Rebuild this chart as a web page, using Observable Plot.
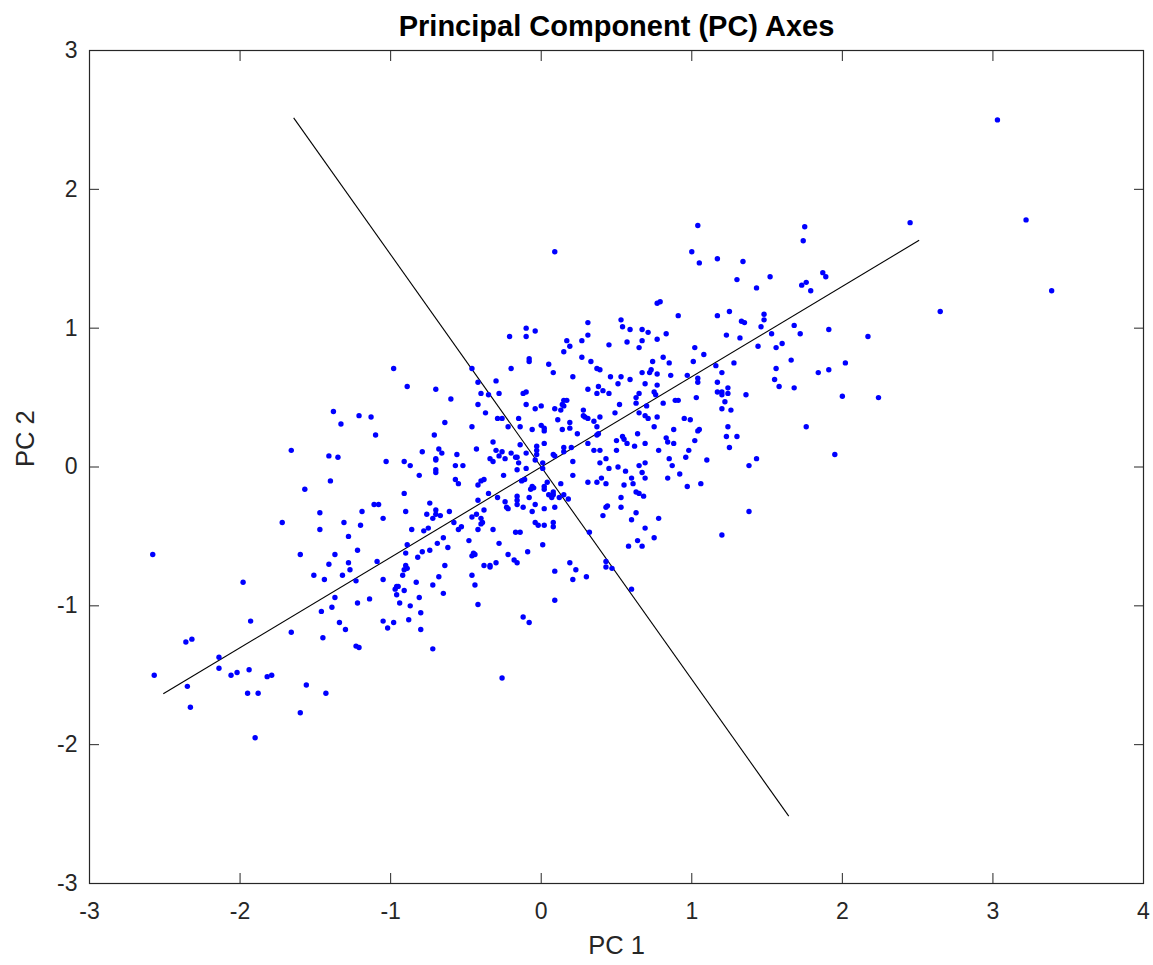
<!DOCTYPE html>
<html>
<head>
<meta charset="utf-8">
<script src="https://cdn.jsdelivr.net/npm/d3@7"></script>
<script src="https://cdn.jsdelivr.net/npm/@observablehq/plot@0.6"></script>
<style>
  body { margin: 0; background: #ffffff; }
  #chart svg { display: block; }
</style>
</head>
<body>
<div id="chart"></div>
<script>
// ---- Data ----
const chartTitle = "Principal Component (PC) Axes";
const xLabel = "PC 1";
const yLabel = "PC 2";
const xTicks = [-3, -2, -1, 0, 1, 2, 3, 4];
const yTicks = [-3, -2, -1, 0, 1, 2, 3];

// Scores of each observation on PC 1 and PC 2 (same order)
const pc1 = [
  -1.38,-1.21,-1.13,-1.33,-1.10,-1.66,-1.41,-1.35,-1.03,-1.40,
  -1.57,-1.47,-1.11,-1.08,-1.19,-1.72,-1.31,-1.47,-1.20,-1.05,
  -1.28,-2.58,-1.60,-1.37,-1.22,-1.41,-1.28,-1.09,-1.27,-1.51,
  -1.32,-1.44,-1.23,-1.05,-1.98,-1.37,-1.14,-1.22,-1.46,-1.39,
  -1.93,-1.34,-1.30,-1.05,-1.02,-1.66,-1.45,-2.36,-2.32,-1.23,
  -1.21,-2.14,-2.57,-2.14,-2.06,-2.02,-1.94,-1.82,-1.79,-2.35,
  -1.56,-1.95,-1.88,-1.43,-2.33,-1.60,-1.90,-0.21,-0.10,-0.10,
  -0.04,-0.98,-0.46,-0.20,-0.08,-0.08,0.05,-0.89,-0.70,-0.42,
  -0.30,-0.60,-0.40,-0.35,-0.28,-0.12,-0.10,-0.42,-0.10,0.00,
  -0.04,-0.37,-0.29,-0.26,-0.15,-0.64,-0.46,-0.22,-0.14,-0.06,
  0.00,0.02,0.02,-0.71,-0.32,-0.14,-0.03,-0.03,-0.03,0.02,
  -0.68,-0.66,-0.79,-0.56,-0.43,-0.30,-0.26,-0.20,-0.10,-0.70,
  -0.70,-0.91,-0.87,-0.57,-0.52,-0.34,-0.32,-0.28,-0.24,-0.17,
  -0.16,-0.15,-0.10,-0.04,0.01,-0.70,-0.16,0.01,-0.81,-0.70,
  -0.57,-0.55,-0.40,-0.38,-0.42,-0.25,-0.13,-0.11,-0.06,-0.05,
  -0.07,0.02,0.02,0.04,0.05,-0.91,-0.35,-0.29,-0.16,-0.16,
  -0.16,-0.08,-0.24,-0.74,-0.42,-0.04,-0.23,-0.22,-0.12,0.02,
  -0.90,-0.76,-0.70,-0.70,-0.67,-0.61,-0.38,-0.06,-0.72,-0.46,
  -0.43,-0.40,-0.58,-0.40,-0.39,-0.04,-0.02,0.02,-0.86,-0.78,
  -0.75,-0.55,-0.53,-0.42,-0.32,-0.17,-0.14,-0.65,-0.48,-0.89,
  -0.90,-0.69,-0.62,-0.28,0.01,-0.79,-0.74,-0.45,-0.44,-0.46,
  -0.09,-0.82,-0.22,-0.18,-0.16,-0.90,-0.89,-0.91,-0.92,-0.64,
  -0.38,-0.34,-0.34,-0.30,-0.68,-0.46,-0.83,-0.72,-0.44,-0.97,
  -0.96,-0.95,-0.91,-0.96,-0.65,-0.81,-0.94,-0.87,-0.42,-0.80,
  -0.12,-0.08,-0.98,-0.88,-0.80,-0.72,-0.26,0.09,1.00,1.05,
  0.77,0.79,0.91,0.31,0.53,0.54,0.31,0.59,0.67,0.71,
  0.83,0.77,0.17,0.27,0.19,0.45,0.57,0.67,0.65,1.02,
  0.15,0.27,0.33,0.74,0.81,0.85,1.01,1.08,0.08,0.21,
  0.37,0.39,0.46,0.53,0.59,0.67,0.72,0.73,0.77,0.86,
  0.97,1.04,1.04,0.51,0.69,0.77,0.31,0.38,0.41,0.37,
  0.45,0.65,0.63,0.75,0.76,0.15,0.17,0.89,0.91,1.03,
  0.14,0.15,0.63,0.52,0.70,0.81,0.09,0.13,0.28,0.49,
  0.65,0.69,0.71,0.77,0.28,0.29,0.31,0.35,0.39,0.11,
  0.19,0.14,0.19,0.24,0.37,0.37,0.38,0.64,0.75,0.95,
  0.99,0.88,1.05,1.04,0.54,0.55,0.57,0.50,0.83,0.84,
  0.88,1.02,0.31,0.62,0.69,0.50,0.78,0.98,0.15,0.15,
  0.20,0.08,0.09,0.35,0.39,0.85,0.96,1.10,0.21,0.43,
  0.39,0.65,0.69,0.87,0.45,0.51,0.56,0.67,0.92,0.21,
  0.60,0.69,0.84,0.13,0.31,0.37,0.40,0.43,0.61,0.55,
  0.97,1.06,0.63,0.65,0.08,0.07,0.08,0.12,0.15,0.18,
  0.68,0.53,0.09,0.43,0.44,0.53,0.63,0.41,0.60,0.78,
  0.08,0.08,0.32,0.69,0.75,0.64,0.67,0.58,0.19,0.43,
  0.43,0.47,0.23,0.09,0.21,0.30,0.60,0.09,1.04,1.75,
  1.74,1.17,1.34,1.30,1.52,1.87,1.89,1.43,1.73,1.76,
  1.79,1.25,1.17,1.48,1.48,1.33,1.35,1.46,1.68,1.91,
  2.17,1.23,1.32,1.53,1.72,1.44,1.56,1.60,1.16,1.20,
  1.28,1.66,1.56,2.02,1.84,1.91,1.55,1.17,1.58,1.68,
  1.24,1.17,1.20,1.20,1.24,1.36,1.22,2.00,2.24,1.20,
  1.26,1.24,1.23,1.30,1.76,1.25,1.43,1.38,1.95,1.38,
  1.20,3.03,2.45,3.22,3.39,2.65
];
const pc2 = [
  0.40,0.37,0.36,0.31,0.23,0.12,0.08,0.07,0.04,-0.10,
  -0.16,-0.33,-0.27,-0.27,-0.32,-0.40,-0.40,-0.45,-0.42,-0.37,
  -0.50,-0.63,-0.63,-0.63,-0.60,-0.70,-0.69,-0.68,-0.74,-0.78,
  -0.78,-0.81,-0.82,-0.81,-0.83,-0.94,-0.95,-0.98,-1.04,-1.01,
  -1.11,-1.12,-1.17,-1.11,-1.16,-1.19,-1.23,-1.26,-1.24,-1.29,
  -1.30,-1.37,-1.50,-1.45,-1.50,-1.48,-1.46,-1.51,-1.50,-1.58,
  -1.57,-1.63,-1.63,-1.63,-1.73,-1.77,-1.95,0.94,1.00,0.94,
  0.98,0.71,0.71,0.71,0.78,0.76,0.74,0.58,0.56,0.61,
  0.62,0.49,0.53,0.52,0.53,0.53,0.54,0.45,0.45,0.44,
  0.42,0.39,0.35,0.35,0.35,0.32,0.29,0.29,0.29,0.27,
  0.30,0.28,0.26,0.23,0.18,0.16,0.15,0.12,0.09,0.17,
  0.13,0.10,0.11,0.09,0.13,0.12,0.11,0.10,0.10,0.06,
  0.05,0.04,0.01,0.01,0.01,0.06,0.04,0.08,0.06,0.07,
  0.07,0.03,-0.01,0.05,0.03,-0.02,-0.02,-0.01,-0.06,-0.04,
  -0.09,-0.12,-0.10,-0.09,-0.13,-0.06,-0.10,-0.09,-0.14,-0.15,
  -0.16,-0.14,-0.16,-0.11,-0.20,-0.19,-0.19,-0.22,-0.21,-0.24,
  -0.27,-0.22,-0.25,-0.26,-0.24,-0.27,-0.29,-0.30,-0.29,-0.30,
  -0.32,-0.34,-0.31,-0.34,-0.35,-0.32,-0.31,-0.32,-0.37,-0.36,
  -0.34,-0.37,-0.40,-0.41,-0.40,-0.40,-0.42,-0.42,-0.45,-0.46,
  -0.44,-0.45,-0.43,-0.45,-0.45,-0.47,-0.47,-0.51,-0.53,-0.56,
  -0.62,-0.55,-0.58,-0.55,-0.56,-0.61,-0.60,-0.62,-0.63,-0.64,
  -0.61,-0.65,-0.63,-0.67,-0.69,-0.71,-0.73,-0.74,-0.78,-0.71,
  -0.71,-0.71,-0.72,-0.69,-0.79,-0.78,-0.83,-0.85,-0.85,-0.88,
  -0.86,-0.86,-0.89,-0.92,-0.91,-0.94,-0.98,-1.00,-0.99,-1.05,
  -1.08,-1.12,-1.12,-1.10,-1.17,-1.31,-1.52,1.55,1.55,1.47,
  1.18,1.19,1.09,1.04,1.06,1.01,0.95,0.99,0.99,0.97,
  0.96,0.92,0.91,0.91,0.87,0.88,0.90,0.91,0.86,0.86,
  0.83,0.79,0.76,0.76,0.79,0.75,0.76,0.81,0.68,0.65,
  0.71,0.70,0.65,0.65,0.63,0.68,0.68,0.70,0.67,0.66,
  0.66,0.64,0.61,0.60,0.60,0.59,0.56,0.58,0.55,0.53,
  0.53,0.53,0.50,0.54,0.52,0.48,0.48,0.48,0.48,0.50,
  0.45,0.44,0.46,0.45,0.44,0.46,0.42,0.41,0.41,0.39,
  0.39,0.37,0.35,0.36,0.37,0.36,0.35,0.33,0.36,0.34,
  0.32,0.27,0.28,0.24,0.29,0.23,0.24,0.24,0.29,0.35,
  0.34,0.27,0.27,0.26,0.22,0.20,0.17,0.19,0.21,0.18,
  0.17,0.19,0.17,0.15,0.17,0.12,0.12,0.12,0.14,0.11,
  0.14,0.09,0.08,0.12,0.12,0.06,0.07,0.05,0.04,0.06,
  0.03,0.01,0.03,0.01,-0.01,0.00,-0.03,-0.04,-0.05,-0.06,
  -0.08,-0.08,-0.08,-0.12,-0.11,-0.11,-0.08,-0.12,-0.12,-0.13,
  -0.14,-0.12,-0.18,-0.19,-0.18,-0.22,-0.20,-0.22,-0.20,-0.23,
  -0.21,-0.22,-0.29,-0.29,-0.28,-0.29,-0.33,-0.35,-0.38,-0.37,
  -0.40,-0.43,-0.47,-0.44,-0.51,-0.53,-0.57,-0.57,-0.69,-0.68,
  -0.72,-0.73,-0.74,-0.75,-0.81,-0.79,-0.88,-0.96,1.74,1.73,
  1.63,1.50,1.48,1.35,1.37,1.40,1.37,1.29,1.31,1.33,
  1.27,1.12,1.09,1.10,1.06,1.05,1.04,1.01,1.02,0.99,
  0.94,0.95,0.93,0.96,0.96,0.87,0.86,0.89,0.73,0.68,
  0.75,0.77,0.71,0.75,0.68,0.70,0.63,0.61,0.58,0.57,
  0.57,0.54,0.54,0.52,0.53,0.52,0.47,0.51,0.50,0.42,
  0.41,0.29,0.22,0.22,0.29,0.14,0.06,0.01,0.09,-0.32,
  -0.49,2.50,1.76,1.78,1.27,1.12
];

// PC axis segments (start and end points in score space)
const axisName = ["PC 1", "PC 2"];
const axisX1 = [-2.51, -1.644];
const axisY1 = [-1.633, 2.515];
const axisX2 = [2.51, 1.644];
const axisY2 = [1.633, -2.515];

// ---- Build tables ----
const points = pc1.map((v, i) => ({pc1: v, pc2: pc2[i]}));
const segments = axisName.map((n, i) => ({name: n, x1: axisX1[i], y1: axisY1[i], x2: axisX2[i], y2: axisY2[i]}));

const ink = "#262626";
const font = "'Liberation Sans', Arial, Helvetica, sans-serif";
const fmt = d => String(d);  // plain hyphen minus, integers

const chart = Plot.plot({
  width: 1153,
  height: 965,
  marginLeft: 89,
  marginRight: 10,
  marginTop: 50,
  marginBottom: 82,
  style: {fontFamily: font, color: ink, background: "#ffffff", overflow: "visible"},
  x: {domain: [-3, 4], label: null},
  y: {domain: [-3, 3], label: null},
  marks: [
    Plot.link(segments, {x1: "x1", y1: "y1", x2: "x2", y2: "y2", stroke: "#000000", strokeWidth: 1.1}),
    Plot.dot(points, {x: "pc1", y: "pc2", r: 2.7, fill: "#0000ff", stroke: "none"}),
    Plot.frame({stroke: ink, strokeWidth: 1.2}),
    // inward ticks on all four sides
    Plot.axisX(xTicks, {anchor: "bottom", tickSize: -10, tickFormat: () => "", stroke: ink, label: null}),
    Plot.axisX(xTicks, {anchor: "top", tickSize: -10, tickFormat: () => "", stroke: ink, label: null}),
    Plot.axisY(yTicks, {anchor: "left", tickSize: -10, tickFormat: () => "", stroke: ink, label: null}),
    Plot.axisY(yTicks, {anchor: "right", tickSize: -10, tickFormat: () => "", stroke: ink, label: null}),
    // tick labels
    Plot.axisX(xTicks, {anchor: "bottom", tickSize: 0, tickPadding: 19, fontSize: 23, fill: ink, label: null, tickFormat: fmt}),
    Plot.axisY(yTicks, {anchor: "left", tickSize: 0, tickPadding: 12, fontSize: 23, fill: ink, label: null, tickFormat: fmt}),
    // axis titles and chart title
    Plot.text([xLabel], {frameAnchor: "bottom", lineAnchor: "middle", dy: 62, fontSize: 25.5, fill: ink}),
    Plot.text([yLabel], {frameAnchor: "left", lineAnchor: "middle", dx: -64, rotate: -90, fontSize: 25.5, fill: ink}),
    Plot.text([chartTitle], {frameAnchor: "top", lineAnchor: "middle", dy: -24, fontSize: 29, fontWeight: "bold", fill: "#000000"})
  ]
});
document.getElementById("chart").appendChild(chart);
</script>
</body>
</html>
